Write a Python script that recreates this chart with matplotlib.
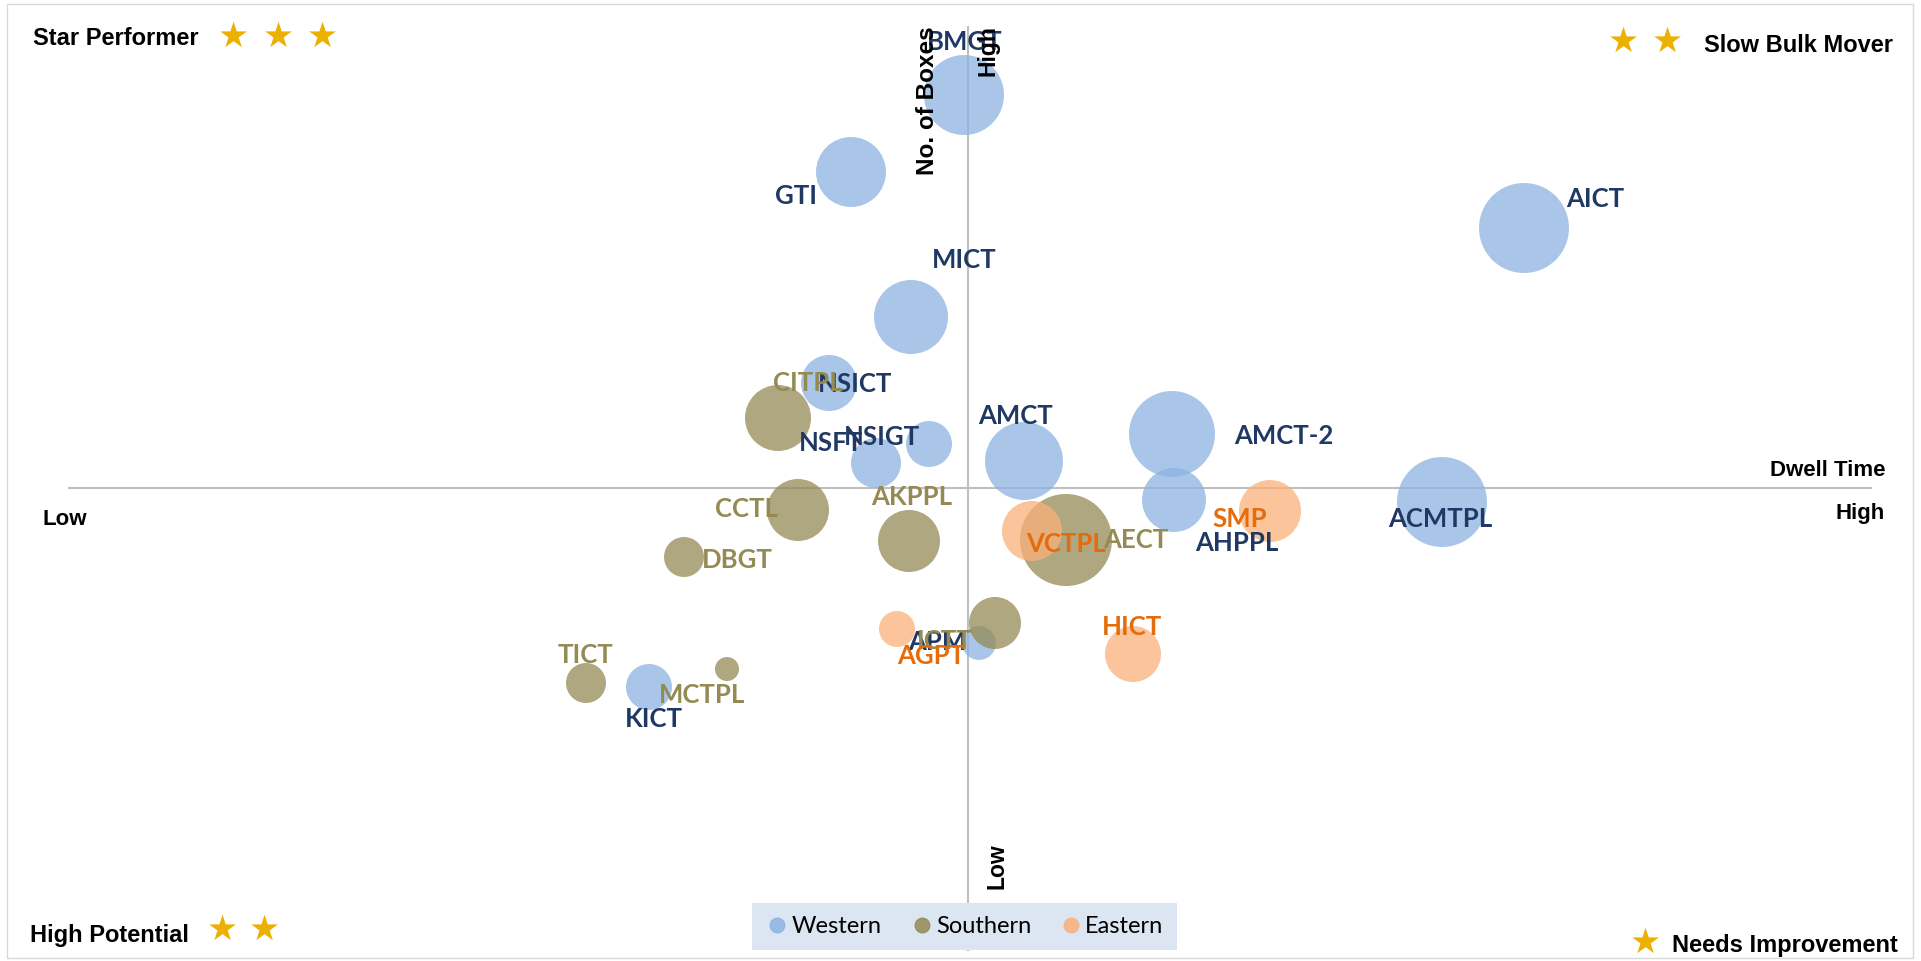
import matplotlib.pyplot as plt
from matplotlib.lines import Line2D
from matplotlib.patches import Rectangle

W, H = 1921, 961

# x = dwell time, y = no. of boxes (both centred on the quadrant cross), size = bubble volume
west_names = ['BMGT', 'GTI', 'AICT', 'MICT', 'NSICT', 'NSIGT', 'NSFT', 'AMCT', 'AMCT-2', 'AHPPL', 'ACMTPL', 'KICT', 'APM']
west_x = [-0.04, -1.17, 5.56, -0.57, -1.39, -0.39, -0.92, 0.56, 2.04, 2.06, 4.74, -3.19, 0.11]
west_y = [3.93, 3.16, 2.60, 1.71, 1.05, 0.44, 0.25, 0.27, 0.54, -0.12, -0.14, -1.99, -1.55]
west_size = [16.0, 12.25, 20.25, 13.69, 7.84, 5.29, 6.25, 15.21, 18.49, 10.24, 20.25, 5.29, 2.89]

south_names = ['CITPL', 'CCTL', 'AKPPL', 'AECT', 'DBGT', 'TICT', 'MCTPL', 'ICTT']
south_x = [-1.90, -1.70, -0.59, 0.98, -2.84, -3.82, -2.41, 0.27]
south_y = [0.70, -0.22, -0.53, -0.52, -0.69, -1.95, -1.81, -1.35]
south_size = [10.89, 9.61, 9.61, 21.16, 4.0, 4.0, 1.44, 6.76]

east_names = ['VCTPL', 'SMP', 'HICT', 'AGPT']
east_x = [0.64, 3.02, 1.65, -0.71]
east_y = [-0.43, -0.23, -1.66, -1.41]
east_size = [9.0, 9.61, 7.84, 3.24]

# label offsets from bubble centre (pixels, +y down)
west_off = [(1, -55), (-55, 22), (71, -31), (53, -59), (26, -1), (-47, -9), (-45, -22),
            (-8, -47), (112, 0), (63, 41), (-2, 15), (5, 30), (-42, -3)]
south_off = [(30, -37), (-51, -3), (3, -46), (70, -2), (53, 1), (-1, -30), (-25, 24), (-50, 16)]
east_off = [(34, 11), (-30, 6), (-1, -29), (34, 25)]

series = [
    ('Western', west_names, west_x, west_y, west_size, west_off, '#8DB3E2', '#1F3864'),
    ('Southern', south_names, south_x, south_y, south_size, south_off, '#948A54', '#948A54'),
    ('Eastern', east_names, east_x, east_y, east_size, east_off, '#FAB07A', '#E46C0A'),
]

fig = plt.figure(figsize=(W / 100, H / 100), dpi=100)
ax = fig.add_axes([0, 0, 1, 1])
ax.set_xlim((0 - 968) / 100, (W - 968) / 100)
ax.set_ylim((488 - H) / 100, 488 / 100)
ax.axis('off')

# quadrant lines
ax.axhline(0, xmin=69 / W, xmax=1871 / W, color='#BFBFBF', lw=1.5, zorder=1)
ax.axvline(0, ymin=(H - 950) / H, ymax=(H - 27) / H, color='#BFBFBF', lw=1.5, zorder=1)

handles = []
for name, labels, xs, ys, sz, off, col, tcol in series:
    ax.scatter(xs, ys, s=[v * 207.36 for v in sz], color=col, alpha=0.75, edgecolors='none', zorder=2)
    handles.append(Line2D([], [], marker='o', ls='', color=col, alpha=0.85, markersize=10.5, label=name))

for name, labels, xs, ys, sz, off, col, tcol in series:
    for lab, x, y, (dx, dy) in zip(labels, xs, ys, off):
        ax.annotate(lab, (x, y), xytext=(dx, -dy), textcoords='offset pixels',
                    ha='center', va='center_baseline', fontsize=18.5, fontweight='bold',
                    family='Lato', color=tcol, zorder=4)

def ftext(px, py, s, **kw):
    fig.text(px / W, 1 - py / H, s, **kw)

arial = dict(family='Liberation Sans', fontweight='bold', color='black')
star = dict(family='DejaVu Sans', fontsize=25, color='#EBB000', ha='center', va='center')

# axis captions
ftext(927, 101, 'No. of Boxes', rotation=90, ha='center', va='center', fontsize=17.5, **arial)
ftext(988, 25, 'High', rotation=90, ha='center', va='top', fontsize=16.5, **arial)
ftext(997, 866, 'Low', rotation=90, ha='center', va='center', fontsize=16.5, **arial)
ftext(1885, 468, 'Dwell Time', ha='right', va='center_baseline', fontsize=16, **arial)
ftext(1885, 511, 'High', ha='right', va='center_baseline', fontsize=16, **arial)
ftext(43, 517, 'Low', ha='left', va='center_baseline', fontsize=16, **arial)

# quadrant titles with stars
corner = dict(va='center_baseline', fontsize=17, **arial)
ftext(33, 36, 'Star Performer', ha='left', **corner)
for sx in [233, 278, 322]:
    ftext(sx, 37, '\u2605', **star)
ftext(1893, 43, 'Slow Bulk Mover', ha='right', **corner)
for sx in [1623, 1667]:
    ftext(sx, 42, '\u2605', **star)
ftext(30, 933, 'High Potential', ha='left', **corner)
for sx in [222, 264]:
    ftext(sx, 930, '\u2605', **star)
ftext(1898, 943, 'Needs Improvement', ha='right', **corner)
ftext(1645, 943, '\u2605', **star)

leg = ax.legend(handles=handles, loc='center', bbox_to_anchor=(964.5 / W, 1 - 926.5 / H),
                ncol=3, frameon=True, fancybox=False, facecolor='#DCE6F2', edgecolor='none',
                framealpha=1, prop={'family': 'Lato', 'size': 17}, handletextpad=0.1,
                columnspacing=1.2, borderpad=0.55, handlelength=1.0, borderaxespad=0)
leg.set_zorder(5)

fig.patches.append(Rectangle((7 / W, 3 / H), 1906 / W, 954 / H, transform=fig.transFigure,
                             fill=False, edgecolor='#D9D9D9', lw=1))

plt.savefig('out.png', dpi=100)
